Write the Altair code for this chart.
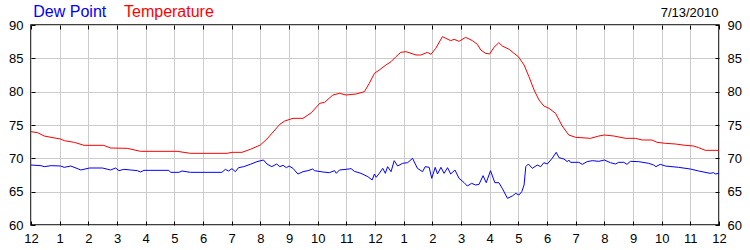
import altair as alt
import pandas as pd

# ---- data (hour of day 0..24, degrees F) ----
temp_hours = [0.0, 0.23, 0.46, 0.70, 1.03, 1.16, 1.51, 1.85, 2.53, 2.78, 3.36, 3.82, 5.10, 5.56,
              6.84, 7.01, 7.36, 7.65, 8.0, 8.23, 8.68, 8.85, 9.14, 9.49, 9.78, 10.07, 10.24,
              10.53, 10.76, 10.99, 11.34, 11.63, 11.80, 11.98, 12.15, 12.38, 12.56, 12.73,
              12.90, 13.08, 13.43, 13.60, 13.83, 13.95, 14.12, 14.35, 14.47, 14.64, 14.76,
              14.93, 15.16, 15.40, 15.57, 15.69, 15.86, 16.0, 16.15, 16.32, 16.44, 16.68,
              16.85, 17.0, 17.20, 17.37, 17.55, 17.72, 17.89, 18.07, 18.30, 18.53, 18.76,
              19.0, 19.52, 19.81, 20.0, 20.33, 20.74, 21.08, 21.32, 21.66, 21.84, 22.13,
              22.48, 22.82, 23.11, 23.29, 23.52, 24.0]
temp_values = [74.0, 73.85, 73.35, 73.15, 72.9, 72.65, 72.4, 71.95, 71.95, 71.55, 71.5, 71.05,
               71.05, 70.75, 70.75, 70.9, 70.9, 71.35, 72.0, 72.9, 75.1, 75.6, 76.0, 76.0,
               76.85, 78.25, 78.4, 79.5, 79.75, 79.5, 79.65, 80.0, 81.25, 82.75, 83.25, 84.0,
               84.5, 85.25, 85.9, 86.0, 85.5, 85.5, 85.9, 85.6, 86.5, 88.25, 88.0, 87.65,
               87.85, 87.55, 88.15, 87.65, 87.1, 86.25, 85.75, 85.65, 86.65, 87.35, 86.85,
               86.35, 85.75, 85.25, 84.0, 82.25, 80.25, 78.75, 77.85, 77.5, 76.75, 74.85,
               73.5, 73.15, 73.0, 73.35, 73.5, 73.35, 73.0, 73.0, 72.75, 72.75, 72.4, 72.25,
               72.15, 71.95, 71.85, 71.6, 71.2, 71.2]

dew_hours = [0.0, 0.35, 0.46, 0.70, 1.03, 1.16, 1.39, 1.74, 2.04, 2.49, 2.78, 2.95, 3.07, 3.24,
             3.48, 3.71, 3.82, 3.94, 4.81, 4.87, 5.16, 5.27, 5.56, 6.66, 6.78, 6.89, 7.01,
             7.13, 7.24, 7.42, 7.65, 7.88, 8.11, 8.23, 8.40, 8.57, 8.68, 8.79, 8.91, 9.0,
             9.14, 9.31, 9.49, 9.66, 9.83, 9.89, 10.18, 10.41, 10.59, 10.65, 10.76, 10.99,
             11.17, 11.28, 11.51, 11.75, 11.90, 11.98, 12.04, 12.15, 12.27, 12.36, 12.44,
             12.56, 12.67, 12.79, 12.96, 13.14, 13.31, 13.48, 13.66, 13.75, 13.89, 13.98,
             14.10, 14.18, 14.30, 14.41, 14.53, 14.64, 14.79, 14.93, 15.11, 15.22, 15.37,
             15.51, 15.63, 15.77, 15.88, 16.03, 16.18, 16.32, 16.44, 16.62, 16.79, 16.91,
             17.02, 17.12, 17.20, 17.26, 17.35, 17.49, 17.66, 17.78, 17.89, 18.01, 18.18,
             18.32, 18.42, 18.59, 18.71, 18.76, 18.82, 19.11, 19.23, 19.40, 19.58, 19.81,
             20.0, 20.21, 20.39, 20.50, 20.68, 20.79, 20.91, 21.20, 21.55, 21.72, 21.80,
             21.95, 22.13, 22.59, 23.0, 23.29, 23.69, 23.81, 23.87, 24.0]
dew_values = [69.0, 68.9, 68.75, 68.9, 68.85, 68.65, 68.85, 68.25, 68.55, 68.55, 68.25, 68.55,
              68.15, 68.35, 68.25, 68.15, 67.95, 68.2, 68.2, 67.9, 67.9, 68.1, 67.9, 67.9,
              68.35, 68.1, 68.45, 68.0, 68.6, 68.75, 69.1, 69.5, 69.75, 69.15, 68.75, 69.15,
              68.75, 68.95, 68.6, 68.85, 68.5, 67.65, 68.0, 68.15, 68.4, 68.15, 67.95, 67.85,
              68.15, 67.75, 68.25, 68.35, 68.45, 68.05, 67.75, 67.25, 66.75, 67.65, 67.15,
              67.75, 68.5, 67.75, 68.75, 68.0, 69.65, 68.85, 69.25, 69.35, 70.0, 68.5, 68.0,
              68.75, 68.65, 67.0, 68.65, 67.65, 68.65, 67.75, 68.6, 67.65, 68.25, 67.0, 66.35,
              65.85, 66.25, 66.0, 66.1, 67.4, 66.35, 68.15, 66.35, 66.35, 65.5, 64.0, 64.35,
              64.75, 64.5, 65.0, 66.0, 68.75, 69.15, 68.5, 69.0, 68.75, 69.35, 69.15, 70.0,
              70.9, 70.1, 69.9, 69.5, 69.75, 69.4, 69.4, 69.1, 69.5, 69.65, 69.55, 69.75,
              69.35, 69.15, 69.4, 69.4, 69.1, 69.55, 69.5, 69.25, 69.0, 68.75, 69.1, 68.85,
              68.65, 68.4, 68.1, 67.75, 67.85, 67.65, 67.75]

x_ticks = list(range(0, 25))
y_ticks = [60, 65, 70, 75, 80, 85, 90]
series_names = ["Dew Point", "Temperature"]
series_colors = ["#0000ff", "#ff0000"]
date_label = "7/13/2010"

FONT = "Liberation Sans"
temp_df = pd.DataFrame({"hour": temp_hours, "value": temp_values})
dew_df = pd.DataFrame({"hour": dew_hours, "value": dew_values})

xscale = alt.Scale(domain=[0, 24], nice=False, zero=False)
yscale = alt.Scale(domain=[60, 90], nice=False, zero=False)
label_expr = "datum.value % 12 == 0 ? '12' : '' + (datum.value % 12)"

common_axis = dict(domain=False, tickSize=4, offset=-4, tickColor="black", tickWidth=1,
                   labelFont=FONT, labelFontSize=13, labelColor="#000000", title=None)

temp = alt.Chart(temp_df).mark_line(color=series_colors[1], strokeWidth=1).encode(
    x=alt.X("hour:Q", scale=xscale,
            axis=alt.Axis(orient="bottom", values=x_ticks, labelExpr=label_expr,
                          grid=True, gridColor="#cccccc", gridWidth=1,
                          labelPadding=7, labelFlush=False, labelOverlap=False,
                          **common_axis)),
    y=alt.Y("value:Q", scale=yscale,
            axis=alt.Axis(orient="left", values=y_ticks, grid=True, gridColor="#cccccc",
                          gridWidth=1, labelPadding=8, labelFlush=False, **common_axis)),
)

dew = alt.Chart(dew_df).mark_line(color=series_colors[0], strokeWidth=1).encode(
    x=alt.X("hour:Q", scale=xscale,
            axis=alt.Axis(orient="top", values=x_ticks, labels=False, grid=False,
                          **common_axis)),
    y=alt.Y("value:Q", scale=yscale,
            axis=alt.Axis(orient="right", values=y_ticks, grid=False, labelPadding=8,
                          labelFlush=False, **common_axis)),
)

one = alt.Data(values=[{}])
t_dew = alt.Chart(one).mark_text(font=FONT, fontSize=16, align="left", baseline="alphabetic",
                                 color=series_colors[0]).encode(
    x=alt.value(2.3), y=alt.value(-7.7), text=alt.value(series_names[0]))
t_temp = alt.Chart(one).mark_text(font=FONT, fontSize=16, align="left", baseline="alphabetic",
                                  color=series_colors[1]).encode(
    x=alt.value(93), y=alt.value(-7.7), text=alt.value(series_names[1]))
t_date = alt.Chart(one).mark_text(font=FONT, fontSize=13, align="right", baseline="alphabetic",
                                  color="#000000").encode(
    x=alt.value(687.5), y=alt.value(-8.3), text=alt.value(date_label))

chart = alt.layer(temp, dew, t_dew, t_temp, t_date).resolve_axis(
    x="independent", y="independent"
).properties(
    width=688, height=200,
    autosize=alt.AutoSizeParams(type="none"),
    padding={"left": 31, "top": 25, "right": 31, "bottom": 25},
    background="white",
).configure_view(stroke="black", strokeWidth=1.5)

chart.save("out.html", embed_options={"renderer": "svg", "actions": False})
